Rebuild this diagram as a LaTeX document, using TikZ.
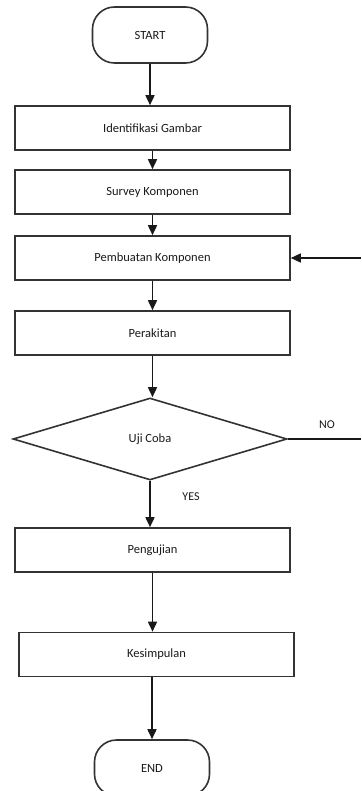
\documentclass[tikz,border=0pt]{standalone}
\usepackage{fontspec}
\setmainfont{Carlito}
\usetikzlibrary{shapes.geometric,arrows.meta}
\begin{document}
\begin{tikzpicture}[x=1pt,y=-1pt,
  line width=1.6pt,
  every node/.style={font=\fontsize{12.5}{14}\selectfont, text=black!90},
  process/.style={draw=black!80, rectangle, minimum width=275pt, minimum height=44pt, inner sep=0pt},
  terminal/.style={draw=black!80, rectangle, rounded corners=22pt, minimum width=115pt, minimum height=56pt, inner sep=0pt},
  decision/.style={draw=black!80, diamond, minimum width=274pt, minimum height=82pt, inner sep=0pt},
  flow/.style={draw=black!90, -{Triangle[length=10pt,width=9pt]}},
  label/.style={font=\fontsize{12}{14}\selectfont}]
  \useasboundingbox (0,0) rectangle (361,791);

  \node[terminal] (start) at (150,35) {START};
  \node[process] (ident) at (152.5,128) {Identifikasi Gambar};
  \node[process] (survey) at (152.5,192) {Survey Komponen};
  \node[process] (buat) at (152.5,258) {Pembuatan Komponen};
  \node[process] (rakit) at (152.5,333) {Perakitan};
  \node[decision] (uji) at (150,439) {Uji Coba};
  \node[process] (pengujian) at (152.5,550) {Pengujian};
  \node[process] (simpul) at (156.5,654.5) {Kesimpulan};
  \node[terminal] (end) at (152,768) {END};

  \coordinate (noend) at (361,439);
  \coordinate (backin) at (361,258);

  \draw[flow] (start) -- (start |- ident.north);
  \draw[flow] (ident) -- (ident |- survey.north);
  \draw[flow] (survey) -- (survey |- buat.north);
  \draw[flow] (buat) -- (buat |- rakit.north);
  \draw[flow] (rakit) -- (rakit |- uji.north);
  \draw[flow] (uji.south) -- (uji.south |- pengujian.north);
  \draw[flow] (pengujian) -- (pengujian |- simpul.north);
  \draw[flow] (simpul.south -| end) -- (end.north);
  \draw[draw=black!90] (uji.east) -- (noend);
  \draw[flow] (backin) -- (buat.east);

  \node[label] (nolabel) at (327,425) {NO};
  \node[label] (yeslabel) at (191,497) {YES};
\end{tikzpicture}
\end{document}
